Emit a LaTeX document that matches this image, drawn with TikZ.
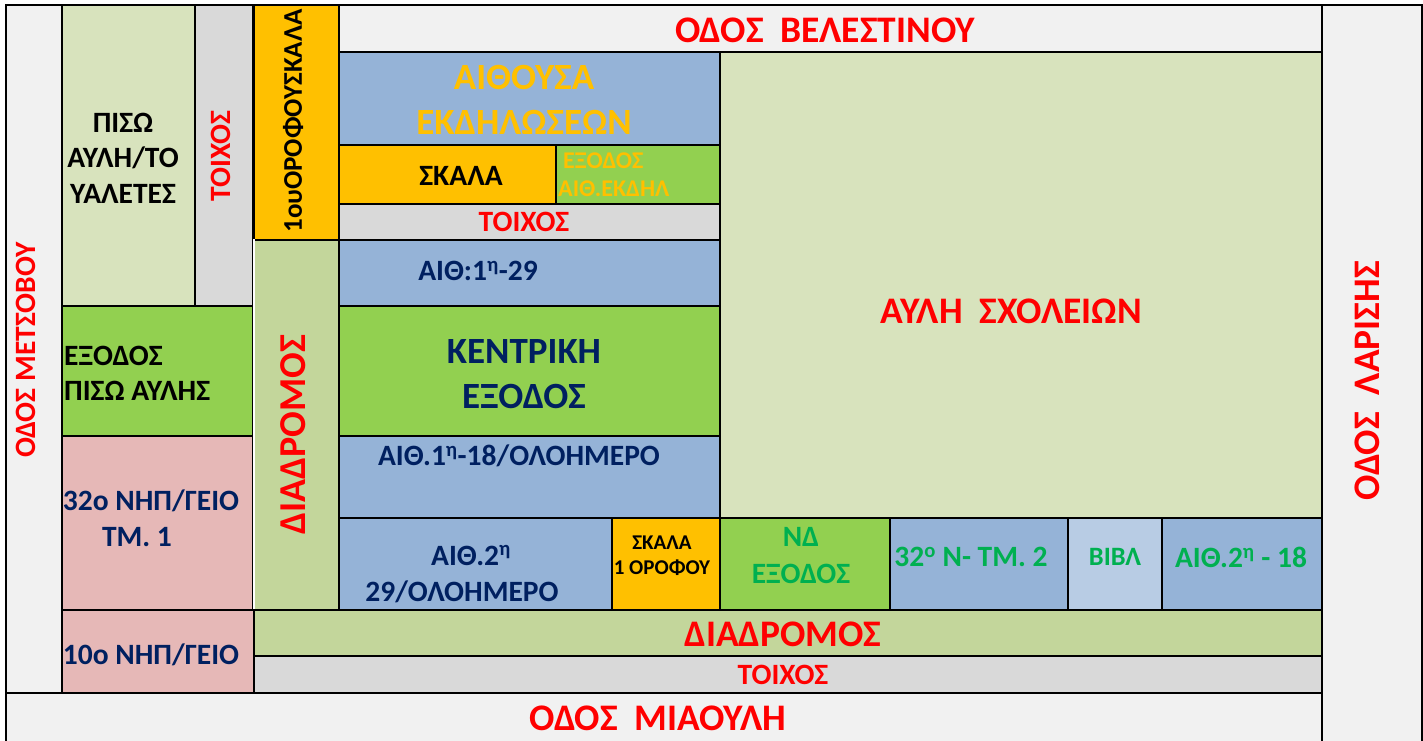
\documentclass[tikz,border=0pt]{standalone}
\usepackage{fontspec}
\setmainfont{Carlito}[BoldFont={Carlito Bold}]
\definecolor{streetgrey}{HTML}{F1F1F1}
\definecolor{yardgreen}{HTML}{D8E3BD}
\definecolor{wallgrey}{HTML}{D9D9D9}
\definecolor{stairamber}{HTML}{FFC000}
\definecolor{classblue}{HTML}{95B3D7}
\definecolor{libblue}{HTML}{B8CCE4}
\definecolor{exitgreen}{HTML}{92D050}
\definecolor{corrgreen}{HTML}{C3D69B}
\definecolor{nurserypink}{HTML}{E6B8B7}
\definecolor{navytext}{HTML}{002060}
\definecolor{greentext}{HTML}{00B050}
\tikzset{
    room/.style={draw=black, line width=2.4pt, rectangle, inner sep=0pt, outer sep=0pt},
    tag/.style={font=\bfseries\fontsize{#1}{#1}\selectfont, inner sep=0pt, align=center},
    tag/.default=29.5,
}
% name, x0, y0, x1, y1, fill (all in pixels of the plan)
\newcommand{\room}[6]{\node[room, fill=#6, minimum width=#4pt-#2pt, minimum height=#5pt-#3pt] (#1) at ({(#2+#4)/2},{(#3+#5)/2}) {};}
\begin{document}
\begin{tikzpicture}[x=1pt, y=-1pt]
\useasboundingbox (0,0) rectangle (1423,740);

% streets
\room{metsovou}{6}{5}{62}{693}{streetgrey}
\room{velestinou}{339}{5}{1322}{52}{streetgrey}
\room{miaouli}{6}{693}{1322}{750}{streetgrey}
\room{larisis}{1322}{5}{1422}{750}{streetgrey}

% left wing
\room{backyard}{62}{5}{195}{306}{yardgreen}
\room{backwall}{195}{5}{253}{306}{wallgrey}
\room{backexit}{62}{306}{253}{436}{exitgreen}
\room{nursery}{62}{436}{253}{610}{nurserypink}
\room{nurseryten}{62}{610}{254}{693}{nurserypink}
\room{stairsup}{254}{5}{339}{240}{stairamber}
\room{corrleft}{254}{240}{339}{610}{corrgreen}
\draw[white, line width=2pt] ([xshift=0.4pt, yshift=1.2pt]corrleft.north west) -- ([xshift=0.4pt, yshift=-1.2pt]corrleft.south west);

% middle block
\room{hall}{339}{52}{720}{145}{classblue}
\room{stairs}{339}{145}{556}{204}{stairamber}
\room{hallexit}{556}{145}{720}{204}{exitgreen}
\room{midwall}{339}{204}{720}{240}{wallgrey}
\room{classone}{339}{240}{720}{306}{classblue}
\room{mainexit}{339}{306}{720}{436}{exitgreen}
\room{classtwo}{339}{436}{720}{518}{classblue}

% bottom row
\room{classthree}{339}{518}{612}{610}{classblue}
\room{stairsfirst}{612}{518}{720}{610}{stairamber}
\room{swexit}{720}{518}{890}{610}{exitgreen}
\room{sectiontwo}{890}{518}{1068}{610}{classblue}
\room{library}{1068}{518}{1162}{610}{libblue}
\room{classfour}{1162}{518}{1322}{610}{classblue}
\room{yard}{720}{52}{1322}{518}{yardgreen}
\room{corrbottom}{254}{610}{1322}{656}{corrgreen}
\room{bottomwall}{254}{656}{1322}{693}{wallgrey}

% labels
\node[tag=37.5, red] (tvelestinou) at (825,30) {ΟΔΟΣ~~ΒΕΛΕΣΤΙΝΟΥ};
\node[tag=37.5, red] (tmiaouli) at (658,718) {ΟΔΟΣ~~ΜΙΑΟΥΛΗ};
\node[tag, red, rotate=90] (tmetsovou) at (26,350) {ΟΔΟΣ ΜΕΤΣΟΒΟΥ};
\node[tag=37.5, red, rotate=90] (tlarisis) at (1367,381) {ΟΔΟΣ~~ΛΑΡΙΣΗΣ};
\node[tag, font=\bfseries\fontsize{29.5}{35.5}\selectfont] (tbackyard) at (123,158) {ΠΙΣΩ\\ΑΥΛΗ/ΤΟ\\ΥΑΛΕΤΕΣ};
\node[tag, red, rotate=90] (tbackwall) at (221,156) {ΤΟΙΧΟΣ};
\node[tag=27, rotate=90] (tstairsup) at (293,121) {1ουΟΡΟΦΟΥΣΚΑΛΑ};
\node[tag, font=\bfseries\fontsize{29.5}{35}\selectfont, align=left, anchor=west] (tbackexit) at (64,373) {ΕΞΟΔΟΣ\\ΠΙΣΩ ΑΥΛΗΣ};
\node[tag, navytext, font=\bfseries\fontsize{29.5}{36}\selectfont] (tnursery) at (151,518) {32o ΝΗΠ/ΓΕΙΟ\\\hspace*{-28pt}ΤΜ. 1};
\node[tag, navytext] (tnurseryten) at (151,655) {10o ΝΗΠ/ΓΕΙΟ};
\node[tag=38, red, rotate=90] (tcorrleft) at (293,435) {ΔΙΑΔΡΟΜΟΣ};
\node[tag=37, stairamber, font=\bfseries\fontsize{37}{45}\selectfont] (thall) at (524,100) {ΑΙΘΟΥΣΑ\\ΕΚΔΗΛΩΣΕΩΝ};
\node[tag] (tstairs) at (461,176) {ΣΚΑΛΑ};
\node[tag=24, stairamber, font=\bfseries\fontsize{24}{28}\selectfont, align=left, anchor=west] (thallexit) at (558,175) {\hspace*{5pt}ΕΞΟΔΟΣ\\ΑΙΘ.ΕΚΔΗΛ};
\node[tag, red] (tmidwall) at (524,222) {ΤΟΙΧΟΣ};
\node[tag, navytext] (tclassone) at (478,271) {ΑΙΘ:1\textsuperscript{η}-29};
\node[tag=37, navytext, font=\bfseries\fontsize{37}{45}\selectfont] (tmainexit) at (524,374) {ΚΕΝΤΡΙΚΗ\\ΕΞΟΔΟΣ};
\node[tag, navytext] (tclasstwo) at (519,456) {ΑΙΘ.1\textsuperscript{η}-18/ΟΛΟΗΜΕΡΟ};
\node[tag, navytext, font=\bfseries\fontsize{29.5}{36}\selectfont] (tclassthree) at (462,574) {\hspace*{18pt}ΑΙΘ.2\textsuperscript{η}\\29/ΟΛΟΗΜΕΡΟ};
\node[tag=21, font=\bfseries\fontsize{21}{25}\selectfont] (tstairsfirst) at (662,556) {ΣΚΑΛΑ\\1 ΟΡΟΦΟΥ};
\node[tag, greentext, font=\bfseries\fontsize{29.5}{37}\selectfont] (tswexit) at (801,556) {ΝΔ\\ΕΞΟΔΟΣ};
\node[tag, greentext] (tsectiontwo) at (971,557) {32\textsuperscript{ο} Ν- ΤΜ. 2};
\node[tag=26.5, greentext] (tlibrary) at (1115,557) {ΒΙΒΛ};
\node[tag, greentext] (tclassfour) at (1241,557) {ΑΙΘ.2\textsuperscript{η} - 18};
\node[tag=37.5, red] (tyard) at (1011,311) {ΑΥΛΗ~~ΣΧΟΛΕΙΩΝ};
\node[tag=37.5, red] (tcorrbottom) at (783,634) {ΔΙΑΔΡΟΜΟΣ};
\node[tag, red] (tbottomwall) at (783,675) {ΤΟΙΧΟΣ};
\end{tikzpicture}
\end{document}
